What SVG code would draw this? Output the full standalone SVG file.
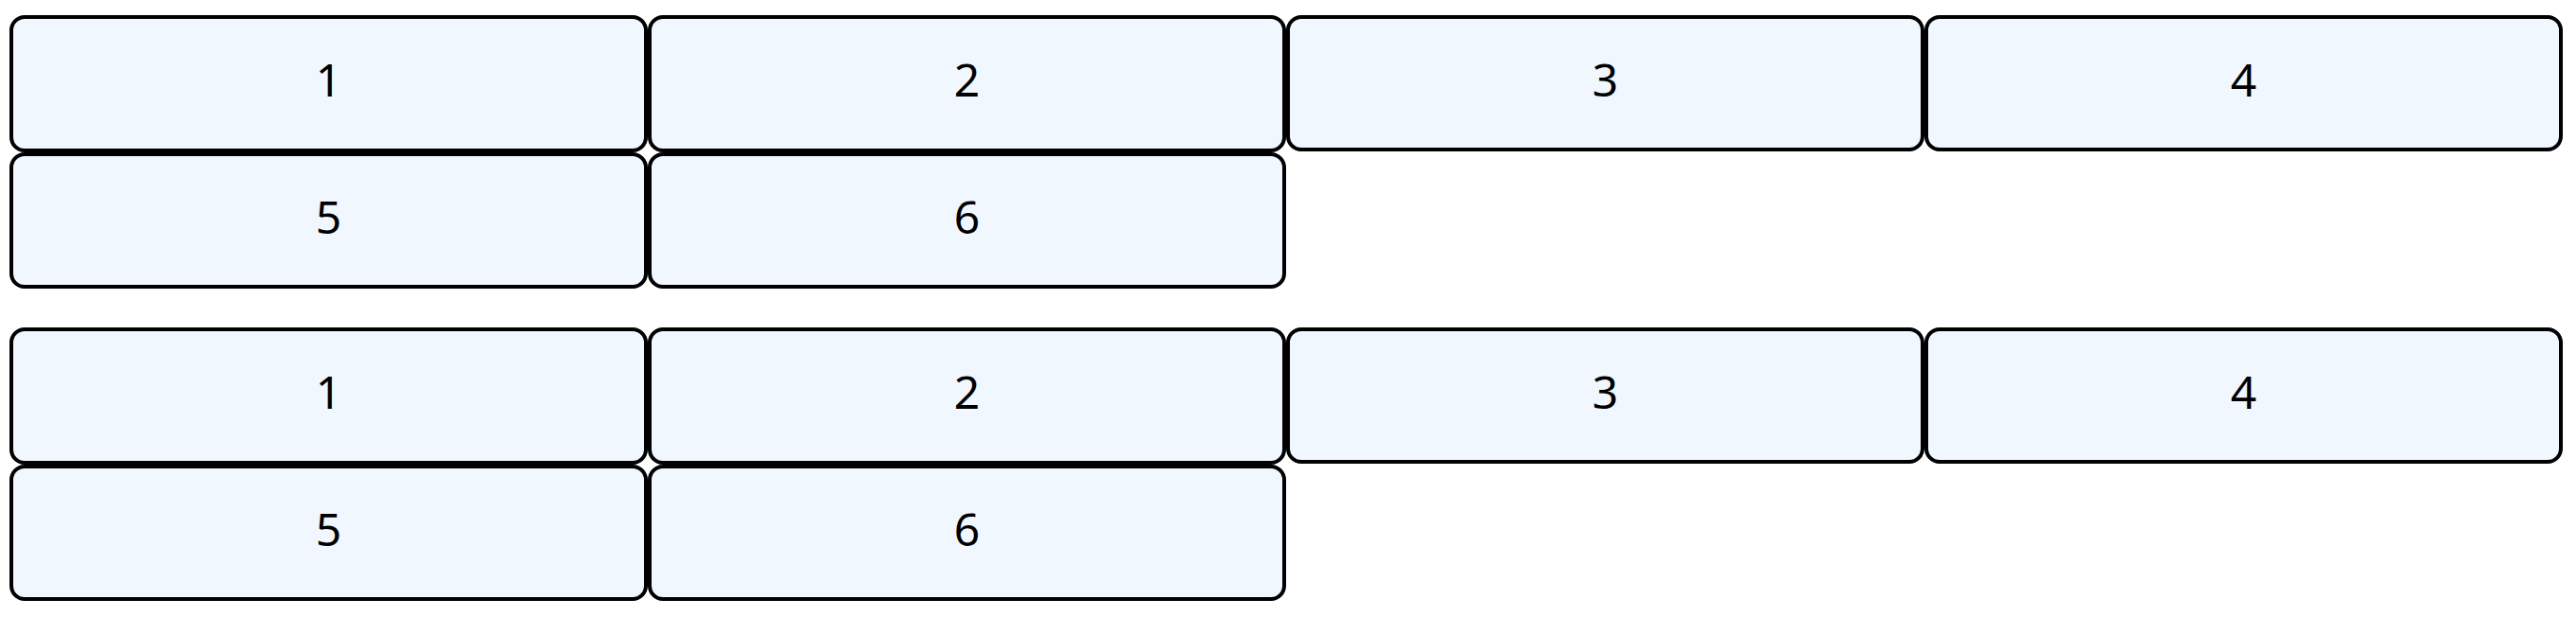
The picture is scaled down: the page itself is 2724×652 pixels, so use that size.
<svg xmlns="http://www.w3.org/2000/svg" width="2724" height="652" viewBox="0 0 2724 652">
<style>
.box{fill:#f0f7ff;stroke:#000;stroke-width:4}
.lbl{font-family:"Noto Sans","Open Sans",sans-serif;font-size:48px;fill:#000;text-anchor:middle}
</style>
<rect width="2724" height="652" fill="#fff"/>
<g id="section1">
<g id="s1-n1"><rect class="box" x="12" y="18" width="671" height="141" rx="14"/><text class="lbl" x="347.5" y="102">1</text></g>
<g id="s1-n2"><rect class="box" x="687" y="18" width="671" height="141" rx="14"/><text class="lbl" x="1022.5" y="102">2</text></g>
<g id="s1-n3"><rect class="box" x="1362" y="18" width="671" height="140" rx="14"/><text class="lbl" x="1697.5" y="102">3</text></g>
<g id="s1-n4"><rect class="box" x="2037" y="18" width="671" height="140" rx="14"/><text class="lbl" x="2372.5" y="102">4</text></g>
<g id="s1-n5"><rect class="box" x="12" y="163" width="671" height="140" rx="14"/><text class="lbl" x="347.5" y="247">5</text></g>
<g id="s1-n6"><rect class="box" x="687" y="163" width="671" height="140" rx="14"/><text class="lbl" x="1022.5" y="247">6</text></g>
</g>
<g id="section2">
<g id="s2-n1"><rect class="box" x="12" y="348" width="671" height="141" rx="14"/><text class="lbl" x="347.5" y="432">1</text></g>
<g id="s2-n2"><rect class="box" x="687" y="348" width="671" height="141" rx="14"/><text class="lbl" x="1022.5" y="432">2</text></g>
<g id="s2-n3"><rect class="box" x="1362" y="348" width="671" height="140" rx="14"/><text class="lbl" x="1697.5" y="432">3</text></g>
<g id="s2-n4"><rect class="box" x="2037" y="348" width="671" height="140" rx="14"/><text class="lbl" x="2372.5" y="432">4</text></g>
<g id="s2-n5"><rect class="box" x="12" y="493" width="671" height="140" rx="14"/><text class="lbl" x="347.5" y="577">5</text></g>
<g id="s2-n6"><rect class="box" x="687" y="493" width="671" height="140" rx="14"/><text class="lbl" x="1022.5" y="577">6</text></g>
</g>
<g id="connectors"/>
</svg>
